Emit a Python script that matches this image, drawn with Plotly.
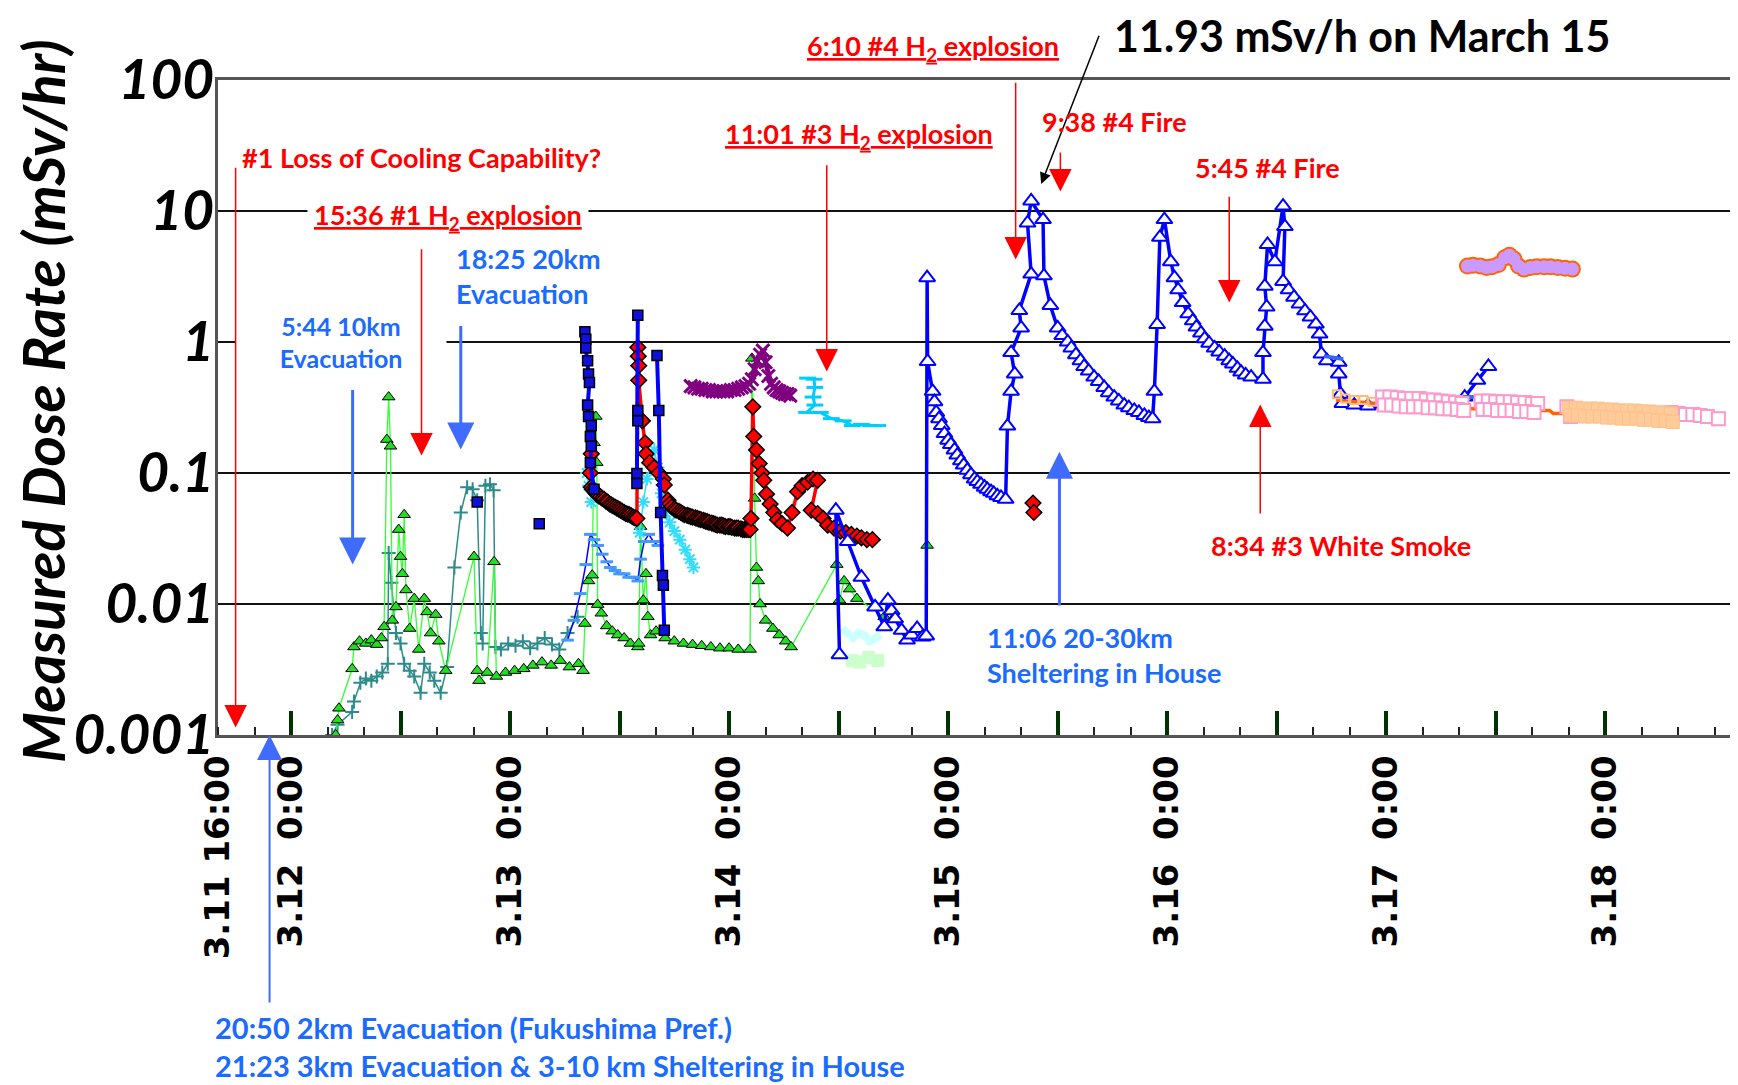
import math
import plotly.graph_objects as go

# time in hours counted from 3.12 0:00, dose rate in mSv/h
green_h = [4.9, 5.1, 5.25, 6.7, 6.9, 7.5, 8.2, 8.8, 9.4, 9.9, 10.2, 10.5, 10.7, 10.9, 11.1, 11.5, 11.8, 12.0,
           12.2, 12.4, 12.6, 13.0, 13.5, 14.0, 14.6, 14.9, 15.3, 15.85, 16.2, 16.95, 20.05, 20.4, 20.6, 21.5,
           22.25, 22.5, 23.5, 24.5, 25.5, 26.5, 27.5, 28.5, 29.5, 30.5, 31.5, 32.0, 32.2, 32.6, 33.0, 33.2,
           33.4, 33.5, 33.6, 34.0, 34.6, 35.2, 35.8, 36.5, 37.2, 38.0, 38.1, 38.3, 38.6, 38.9, 39.1, 39.4,
           40.0, 41.0, 42.0, 43.0, 44.0, 45.0, 46.0, 47.0, 48.0, 49.0, 50.3, 50.5, 50.8, 51.0, 51.2, 51.4,
           52.0, 52.8, 53.5, 54.2, 54.8, 59.8, 60.1, 60.6, 61.2, 62.0, 65.0, 66.0, None, 69.7]
green_v = [0.0010, 0.0013, 0.0016, 0.0032, 0.0047, 0.0052, 0.0050, 0.0053, 0.0049, 0.0055, 0.0067, 0.18, 0.38,
           0.16, 0.0075, 0.0095, 0.037, 0.023, 0.017, 0.048, 0.0128, 0.0065, 0.011, 0.0045, 0.011, 0.0087, 0.006,
           0.0083, 0.0052, 0.0031, 0.023, 0.0031, 0.0026, 0.0030, 0.021, 0.0028, 0.0030, 0.0031, 0.0032, 0.0034,
           0.0036, 0.0034, 0.0037, 0.0033, 0.0035, 0.0031, 0.0071, 0.015, 0.0166, 0.17, 0.27, 0.12, 0.0099,
           0.0085, 0.0068, 0.0062, 0.0058, 0.0055, 0.0050, 0.0047, 0.0050, 0.039, 0.0107, 0.017, 0.008, 0.0058,
           0.0062, 0.0055, 0.0052, 0.0050, 0.0049, 0.0048, 0.0047, 0.0046, 0.0046, 0.0045, 0.0045, 0.75, 0.064,
           0.019, 0.015, 0.010, 0.0075, 0.0065, 0.0058, 0.0052, 0.0047, 0.02, 0.0107, 0.015, 0.013, 0.011, 0.008,
           0.0078, None, 0.028]

teal_h = [4.5, 5.1, 6.7, 6.9, 7.6, 8.2, 8.8, 9.4, 10.0, 10.6, 10.7, 11.0, 11.5, 12.0, 12.4, 13.0, 13.5, 14.2,
          14.6, 15.2, 15.7, 16.4, 17.1, 17.9, 18.6, 19.3, 19.9, 20.4, 20.8, 21.0, 21.3, 21.8, 22.2, 22.4, 23.0,
          23.8, 24.6, 25.4, 26.2, 27.0, 27.8, 28.6, 29.4, 30.3, 31.4]
teal_v = [0.0010, 0.0012, 0.0015, 0.0018, 0.0025, 0.0027, 0.0026, 0.0028, 0.0030, 0.0035, 0.0245, 0.0145, 0.006,
          0.005, 0.0035, 0.0031, 0.0028, 0.0021, 0.0035, 0.0030, 0.0026, 0.0021, 0.0033, 0.019, 0.05, 0.078,
          0.075, 0.062, 0.006, 0.005, 0.08, 0.082, 0.074, 0.0047, 0.0045, 0.005, 0.0048, 0.0052, 0.0046, 0.005,
          0.0055, 0.0049, 0.0045, 0.006, 0.008]

bline_h = [30.3, 31.0, 31.7, 32.3, 32.8, 33.2, 33.6, 34.1, 34.6, 35.0, 35.5, 36.0, 36.5, 37.0, 37.6, 38.0, 38.3,
           38.7, 39.2, 39.7, 40.2]
bline_v = [0.0053, 0.0075, 0.012, 0.02, 0.034, 0.031, 0.028, 0.024, 0.021, 0.019, 0.018, 0.017, 0.017, 0.016,
           0.016, 0.015, 0.022, 0.030, 0.034, 0.030, 0.028]

cyan_h = [32.4, 32.6, 32.9, None, 38.2, 38.6, 39.0, 39.4, 39.8, 40.2, 40.6, 41.0, 41.5, 42.0, 42.6, 43.2, 43.7, 44.1]
cyan_v = [0.10, 0.08, 0.06, None, 0.035, 0.06, 0.09, 0.12, 0.15, 0.11, 0.07, 0.05, 0.042, 0.036, 0.031, 0.026,
          0.022, 0.019]

red_h = [32.9, 32.8, 32.9, 33.05, 33.2, 33.35, 33.5, 33.7, 33.9, 34.1, 34.3, 34.5, 34.7, 34.9, 35.1, 35.3, 35.5,
         35.7, 35.9, 36.1, 36.3, 36.5, 36.7, 36.9, 37.1, 37.3, 37.5, 37.7, 37.9, 38.0, 38.05, 38.1, 38.1, 38.5,
         38.8, 38.9, 39.3, 39.8, 40.3, 40.8, 40.9, 41.3, 41.5, 41.7, 42.0, 42.2, 42.5, 42.7, 42.9, 43.1, 43.4,
         43.6, 43.8, 44.0, 44.3, 44.5, 44.7, 44.9, 45.2, 45.4, 45.6, 45.8, 46.1, 46.3, 46.5, 46.7, 47.0, 47.2,
         47.4, 47.6, 47.9, 48.1, 48.3, 48.6, 48.8, 49.0, 49.3, 49.5, 49.7, 49.9, 50.1, 50.3, 50.4, 50.6, 50.7,
         51.0, 51.3, 51.6, 51.8, 52.1, 52.5, 52.9, 53.3, 53.8, 54.4, 54.9, 55.5, 56.0, 56.6, 57.2, 57.7, 57.0,
         57.7, 58.3, 58.8, 59.5, 60.2, 60.8, 61.4, 62.0, 62.5, 63.1, 63.7, None, 81.3, 81.4]
red_v = [0.14, 0.10, 0.078, 0.075, 0.073, 0.071, 0.069, 0.067, 0.066, 0.064, 0.063, 0.061, 0.060, 0.058, 0.057,
         0.056, 0.055, 0.054, 0.053, 0.052, 0.051, 0.050, 0.049, 0.0485, 0.048, 0.047, 0.046, 0.0455, 0.045, 0.91,
         0.78, 0.66, 0.51, 0.25, 0.17, 0.14, 0.12, 0.11, 0.10, 0.09, 0.081, 0.062, 0.058, 0.055, 0.053, 0.052,
         0.051, 0.050, 0.049, 0.048, 0.0475, 0.047, 0.0465, 0.046, 0.0455, 0.045, 0.0445, 0.044, 0.0435, 0.043,
         0.0425, 0.042, 0.0415, 0.041, 0.0405, 0.040, 0.040, 0.040, 0.0395, 0.039, 0.039, 0.039, 0.0385, 0.038,
         0.038, 0.038, 0.0375, 0.037, 0.037, 0.037, 0.037, 0.037, 0.045, 0.32, 0.19, 0.15, 0.118, 0.10, 0.088,
         0.069, 0.058, 0.050, 0.044, 0.041, 0.038, 0.05, 0.072, 0.08, 0.085, 0.09, 0.088, 0.052, 0.049, 0.045,
         0.040, 0.038, 0.036, 0.035, 0.034, 0.033, 0.032, 0.031, 0.031, None, 0.059, 0.050]

bsq_h = [20.4, None, 27.2, None, 32.2, 32.3, 32.3, 32.5, 32.6, 32.7, 32.5, 32.6, 32.9, 32.8, 32.9, 32.8, 33.2,
         None, 38.0, 38.0, 38.0, 37.9, 37.9, None, 40.1, 40.3, 40.5, 40.7, 40.8, 40.9]
bsq_v = [0.060, None, 0.041, None, 1.2, 1.05, 0.9, 0.72, 0.57, 0.49, 0.33, 0.27, 0.23, 0.19, 0.16, 0.12, 0.075,
         None, 1.6, 0.30, 0.25, 0.099, 0.083, None, 0.79, 0.3, 0.05, 0.0165, 0.0139, 0.0063]

purple_h = [43.8, 44.2, 44.6, 45.0, 45.4, 45.8, 46.2, 46.6, 47.0, 47.4, 47.8, 48.2, 48.6, 49.0, 49.4, 49.8, 50.2,
            50.5, 50.8, 51.1, 51.4, 51.7, 52.0, 52.3, 52.6, 52.9, 53.2, 53.5, 53.8, 54.1, 54.4, 54.7]
purple_v = [0.46, 0.45, 0.44, 0.44, 0.43, 0.43, 0.42, 0.42, 0.42, 0.42, 0.42, 0.43, 0.43, 0.44, 0.45, 0.46, 0.48,
            0.52, 0.62, 0.72, 0.80, 0.86, 0.70, 0.55, 0.48, 0.45, 0.43, 0.42, 0.41, 0.40, 0.40, 0.39]

lcyan_h = [56.6, 57.3, 57.4, 57.2, 57.4, 56.5, 58.0, 59.2, 60.5, 61.5, 62.5, 63.5, 64.3]
lcyan_v = [0.53, 0.52, 0.45, 0.38, 0.33, 0.29, 0.29, 0.26, 0.25, 0.23, 0.235, 0.23, 0.23]

pcyan_h = [60.4, 61.0, 61.6, 62.2, 62.8, 63.4, 64.0, 64.6]
pcyan_v = [0.0065, 0.006, 0.0055, 0.006, 0.0058, 0.0052, 0.0055, 0.0058]

pgreen_h = [61.5, 62.3, 63.3, 64.3]
pgreen_v = [0.0037, 0.0036, 0.0039, 0.0037]

tri_h = [60.1, 59.7, 61.0, 62.5, 64.0, 65.0, 65.4, 65.8, 66.2, 66.9, 67.5, 68.0, 68.6, 69.2, 69.6, 69.7, 69.75,
         70.3, 70.5, 70.7, 71.0, 71.3, 71.6, 72.0, 72.3, 72.7, 73.0, 73.4, 73.7, 74.1, 74.5, 74.9, 75.2, 75.6,
         76.0, 76.3, 76.7, 77.0, 77.4, 77.8, 78.3, 78.5, 78.9, 79.3, 78.9, 80.0, 79.8, 81.1, 80.7, 81.1, 82.4,
         82.5, 83.2, 84.0, 84.5, 85.1, 85.5, 86.0, 86.5, 86.9, 87.4, 88.0, 88.5, 89.1, 89.6, 90.2, 90.7, 91.3,
         91.8, 92.4, 92.9, 93.5, 94.0, 94.4, 94.6, 94.9, 95.2, 95.7, 96.4, 96.8, 97.2, 97.7, 98.3, 98.8, 99.2,
         99.7, 100.1, 100.6, 101.2, 101.7, 102.3, 102.8, 103.2, 103.7, 104.1, 104.6, 105.2, 106.5, 106.5, 106.7,
         106.9, 106.7, 107.0, 107.8, 108.7, 108.9, 108.7, 109.3, 109.9, 110.5, 111.1, 111.7, 112.3, 112.7,
         112.9, 113.5, 114.8, 114.8, 115.0, 115.2, 116.5, 118.0, 120.0, 122.5, 125.0, 127.5, 128.6, 130.0, 131.2]
tri_v = [0.0041, 0.052, 0.03, 0.016, 0.0095, 0.0067, 0.0107, 0.0089, 0.0077, 0.0063, 0.0053, 0.0058, 0.0065,
         0.0056, 0.0057, 3.1, 0.71, 0.42, 0.35, 0.29, 0.26, 0.23, 0.20, 0.178, 0.165, 0.15, 0.137, 0.124, 0.115,
         0.105, 0.097, 0.090, 0.086, 0.082, 0.078, 0.075, 0.072, 0.07, 0.067, 0.065, 0.063, 0.228, 0.42, 0.57,
         0.83, 1.28, 1.74, 3.3, 8.1, 11.93, 8.6, 3.2, 1.9, 1.28, 1.12, 1.0, 0.9, 0.8, 0.72, 0.65, 0.6, 0.54, 0.5,
         0.45, 0.41, 0.38, 0.355, 0.33, 0.315, 0.30, 0.29, 0.275, 0.265, 0.26, 0.42, 1.36, 6.3, 8.6, 4.1, 3.1,
         2.5, 2.0, 1.64, 1.45, 1.3, 1.17, 1.06, 0.98, 0.9, 0.84, 0.78, 0.72, 0.68, 0.63, 0.59, 0.56, 0.54, 0.52,
         0.83, 1.32, 1.85, 2.67, 5.55, 4.1, 10.9, 7.6, 2.9, 2.5, 2.2, 1.95, 1.73, 1.55, 1.37, 1.15, 0.81, 0.72,
         0.70, 0.57, 0.40, 0.34, 0.33, 0.325, 0.32, 0.315, 0.315, 0.33, 0.38, 0.51, 0.65]

bdash_h = [113.2, 115.3, None, 128.1, 129.9]
bdash_v = [0.78, 0.74, None, 0.38, 0.38]

orange_h = [114.5, 119.0, 124.0, 128.5, 130.2, 133.0, 136.7, 137.9, 138.3, 139.6, 145.0, 150.0, 156.0]
orange_v = [0.36, 0.34, 0.33, 0.31, 0.31, 0.31, 0.30, 0.30, 0.285, 0.285, 0.28, 0.27, 0.265]

peach_small_h = [114.6, 115.5, 116.5, 117.5, 118.5]
peach_small_v = [0.40, 0.37, 0.36, 0.36, 0.35]

pink_h = [119.6, 120.4, 121.2, 122.0, 122.8, 123.6, 124.4, 125.2, 126.0, 126.8, 127.6, 128.3,
          119.8, 120.6, 121.4, 122.2, 123.0, 123.8, 124.6, 125.4, 126.2, 127.0, 127.8, 128.5,
          130.4, 131.2, 132.0, 132.8, 133.6, 134.4, 135.2, 136.0, 136.6,
          130.6, 131.4, 132.2, 133.0, 133.8, 134.6, 135.4, 136.2,
          139.8, 140.2, 151.2, 152.0, 152.8, 153.6, 154.4, 155.2, 156.4]
pink_v = [0.38, 0.38, 0.375, 0.37, 0.37, 0.37, 0.36, 0.36, 0.355, 0.35, 0.345, 0.34,
          0.33, 0.33, 0.325, 0.32, 0.32, 0.32, 0.315, 0.315, 0.31, 0.31, 0.305, 0.30,
          0.355, 0.355, 0.35, 0.35, 0.35, 0.345, 0.345, 0.34, 0.34,
          0.305, 0.305, 0.30, 0.30, 0.30, 0.295, 0.295, 0.29,
          0.32, 0.27, 0.29, 0.285, 0.28, 0.28, 0.275, 0.27, 0.26]

peach_h = [140.0, 140.8, 141.6, 142.4, 143.2, 144.0, 144.8, 145.6, 146.4, 147.2, 148.0, 148.8, 149.6, 150.4,
           151.2, 140.2, 141.0, 141.8, 142.6, 143.4, 144.2, 145.0, 145.8, 146.6, 147.4, 148.2, 149.0, 149.8,
           150.6, 151.4]
peach_v = [0.315, 0.315, 0.31, 0.31, 0.31, 0.305, 0.305, 0.30, 0.30, 0.30, 0.295, 0.295, 0.29, 0.29, 0.285,
           0.275, 0.275, 0.27, 0.27, 0.27, 0.265, 0.265, 0.26, 0.26, 0.26, 0.255, 0.255, 0.25, 0.25, 0.245]

lav_h = [128.9, 129.5, 130.3, 131.0, 131.6, 132.3, 133.0, 133.5, 134.0, 134.5, 135.1, 135.8, 136.5, 137.3, 138.0,
         138.8, 139.6, 140.4]
lav_v = [3.8, 3.85, 3.8, 3.7, 3.75, 3.9, 4.4, 4.6, 4.3, 3.8, 3.6, 3.7, 3.75, 3.75, 3.75, 3.7, 3.65, 3.6]

label_h = [-8, 0, 24, 48, 72, 96, 120, 144]
label_text = ['3.11\u00a016:00', '3.12\u00a0\u00a00:00', '3.13\u00a0\u00a00:00', '3.14\u00a0\u00a00:00',
              '3.15\u00a0\u00a00:00', '3.16\u00a0\u00a00:00', '3.17\u00a0\u00a00:00', '3.18\u00a0\u00a00:00']
half_day_h = [0, 12, 24, 36, 48, 60, 72, 84, 96, 108, 120, 132, 144]
y_ticks = [100, 10, 1, 0.1, 0.01, 0.001]
y_text = ['100', '10', '1', '0.1', '0.01', '0.001']

fig = go.Figure()


def series(h, v, mode, line=None, marker=None, xaxis='x'):
    fig.add_trace(go.Scatter(x=h, y=v, mode=mode, line=line, marker=marker, xaxis=xaxis,
                             connectgaps=False, hoverinfo='skip', showlegend=False))


series(teal_h, teal_v, 'lines+markers', dict(color='#2E8B8B', width=1.5),
       dict(symbol='cross-thin-open', size=10, color='#2E8B8B', line=dict(width=2, color='#2E8B8B')))
series(green_h, green_v, 'lines+markers', dict(color='#33FF33', width=1.3),
       dict(symbol='triangle-up', size=11, color='#22DD22', line=dict(width=1, color='black')))
series(bline_h, bline_v, 'lines+markers', dict(color='#0000FF', width=1.5),
       dict(symbol='line-ew-open', size=9, color='#4499FF', line=dict(width=3, color='#4499FF')))
series(cyan_h, cyan_v, 'lines+markers', dict(color='#33DDFF', width=1.5),
       dict(symbol='asterisk-open', size=11, color='#33DDFF', line=dict(width=2, color='#33DDFF')))
series(red_h, red_v, 'lines+markers', dict(color='#FF0000', width=3.5),
       dict(symbol='diamond', size=12, color='#FF0000', line=dict(width=1.5, color='black')))
series(bsq_h, bsq_v, 'lines+markers', dict(color='#0000FF', width=4),
       dict(symbol='square', size=10, color='#1010DD', line=dict(width=1.5, color='black')))
series(purple_h, purple_v, 'lines+markers', dict(color='#800080', width=5),
       dict(symbol='x-thin-open', size=13, color='#800080', line=dict(width=3, color='#800080')))
series(lcyan_h, lcyan_v, 'lines+markers', dict(color='#00CCFF', width=3),
       dict(symbol='line-ew-open', size=12, color='#00CCFF', line=dict(width=3, color='#00CCFF')))
series(pcyan_h, pcyan_v, 'lines', dict(color='#CCFFFF', width=8))
series(pgreen_h, pgreen_v, 'markers', None, dict(symbol='square', size=13, color='#CCFFCC'))
series(tri_h, tri_v, 'lines+markers', dict(color='#0000FF', width=3.5),
       dict(symbol='triangle-up', size=14, color='white', line=dict(width=2, color='#0000FF')))
series(bdash_h, bdash_v, 'lines', dict(color='#3366FF', width=4))
series(orange_h, orange_v, 'lines', dict(color='#FF6600', width=3.5))
series(peach_small_h, peach_small_v, 'markers', None,
       dict(symbol='square-open', size=8, color='#FFBB77', line=dict(width=2, color='#FFBB77')))
series(pink_h, pink_v, 'markers', None,
       dict(symbol='square', size=13, color='white', line=dict(width=2, color='#FF99CC')))
series(peach_h, peach_v, 'markers', None,
       dict(symbol='square', size=13, color='#FFCC99', line=dict(width=1, color='#FFBF8C')))
series(lav_h, lav_v, 'markers', None, dict(symbol='circle', size=17, color='#FF6600'))
series(lav_h, lav_v, 'markers', None, dict(symbol='circle', size=13, color='#CC99FF'))
# carrier trace for the half-day tick axis
series([0], [0.001], 'markers', None, dict(size=1, opacity=0), xaxis='x2')

RED = '#FF0000'
BLUE_TXT = '#1A6BFF'
BLUE_ARR = '#3F6CFF'
anns = []


def text(t, x, y, color, size=27, xanchor='center', **kw):
    anns.append(dict(text=t, x=x, y=y, xref='paper', yref='paper', showarrow=False, xanchor=xanchor,
                     yanchor='middle', align='left' if xanchor == 'left' else 'center',
                     font=dict(family='Lato', size=size, color=color, weight='bold'), **kw))


def arrow(h, head, tail, color, width, size):
    anns.append(dict(text='', x=h, y=math.log10(head), ax=h, ay=math.log10(tail), xref='x', yref='y',
                     axref='x', ayref='y', showarrow=True, arrowhead=2, arrowcolor=color,
                     arrowwidth=width, arrowsize=size))


# boxes that blank out grid lines
text('5:44 10km<br>Evacuation', 0.081, 0.600, BLUE_TXT, 25, bgcolor='white', width=208, height=68)
text('<u>15:36 #1 H<sub>2</sub> explosion</u>', 0.152, 0.792, RED, bgcolor='white', borderpad=6)

arrow(-6.07, 0.00114, 22.0, RED, 1.5, 3)
arrow(14.3, 0.136, 5.25, RED, 1.5, 3)
arrow(58.7, 0.596, 22.9, RED, 1.5, 3)
arrow(79.4, 4.27, 97.7, RED, 1.5, 3)
arrow(84.3, 14.1, 28.7, RED, 1.5, 3)
arrow(102.8, 2.0, 13.2, RED, 1.5, 3)
arrow(106.2, 0.333, 0.0479, RED, 1.5, 3)
arrow(18.6, 0.151, 1.36, BLUE_ARR, 3, 1.8)
arrow(6.75, 0.020, 0.442, BLUE_ARR, 3, 1.8)
arrow(84.2, 0.145, 0.0095, BLUE_ARR, 3, 1.8)
anns.append(dict(text='', x=-2.35, y=0.0, xref='x', yref='paper', ax=0, ay=269, axref='pixel', ayref='pixel',
                 showarrow=True, arrowhead=2, arrowcolor=BLUE_ARR, arrowwidth=2, arrowsize=2.5))
anns.append(dict(text='', x=82.2, y=1.206, ax=88.6, ay=2.35, xref='x', yref='y', axref='x', ayref='y',
                 showarrow=True, arrowhead=2, arrowcolor='black', arrowwidth=1.5, arrowsize=1.5))

text('#1 Loss of Cooling Capability?', 0.134, 0.881, RED)
text('18:25 20km<br>Evacuation', 0.156, 0.701, BLUE_TXT, xanchor='left')
text('<u>11:01 #3 H<sub>2</sub> explosion</u>', 0.423, 0.915, RED)
text('<u>6:10 #4 H<sub>2</sub> explosion</u>', 0.472, 1.049, RED)
text('9:38 #4 Fire', 0.592, 0.937, RED)
text('5:45 #4 Fire', 0.693, 0.866, RED)
text('8:34 #3 White Smoke', 0.741, 0.289, RED)
text('11:06 20-30km<br>Sheltering in House', 0.506, 0.122, BLUE_TXT, xanchor='left')
text('20:50 2km Evacuation (Fukushima Pref.)<br>21:23 3km Evacuation &amp; 3-10 km Sheltering in House',
     -0.003, -0.475, BLUE_TXT, 29, xanchor='left')
text('11.93 mSv/h on March 15', 0.755, 1.068, 'black', 43)
anns.append(dict(text='Measured Dose Rate (mSv/hr)', x=-0.1155, y=0.51, xref='paper', yref='paper',
                 showarrow=False, textangle=-90, xanchor='center', yanchor='middle',
                 font=dict(family='Lato', size=58, color='black', weight='bold', style='italic')))

# the page body adds an 8 px offset, so the figure is 8 px smaller on each far edge
fig.update_layout(
    width=1730, height=1077,
    margin=dict(l=210, r=5, t=72, b=350),
    paper_bgcolor='white', plot_bgcolor='white',
    showlegend=False,
    annotations=anns,
    xaxis=dict(range=[-8, 158], tickmode='array', tickvals=label_h, ticktext=label_text, tickangle=-90,
               tickfont=dict(family='DejaVu Sans', size=34, color='black', weight='bold'),
               ticks='', ticklabelstandoff=4, showgrid=False, zeroline=False, automargin=False,
               showline=True, linecolor='#555555', linewidth=2.5, mirror=True,
               minor=dict(ticks='inside', dtick=4, tick0=0, ticklen=8, tickwidth=1.5, tickcolor='#222222',
                          showgrid=False)),
    xaxis2=dict(overlaying='x', anchor='y', side='bottom', range=[-8, 158], tickmode='array',
                tickvals=half_day_h, ticks='inside', ticklen=24, tickwidth=3.5, tickcolor='#003300',
                showticklabels=False, showgrid=False, zeroline=False, showline=False, automargin=False),
    yaxis=dict(type='log', range=[-3, 2], tickmode='array', tickvals=y_ticks, ticktext=y_text,
               tickfont=dict(family='Lato', size=55, color='black', weight='bold', style='italic'),
               ticks='', ticklabelstandoff=-10, showgrid=True, gridcolor='#111111', gridwidth=1.5,
               zeroline=False, automargin=False,
               showline=True, linecolor='#555555', linewidth=2.5, mirror=True),
)

fig.write_html("out.html")
